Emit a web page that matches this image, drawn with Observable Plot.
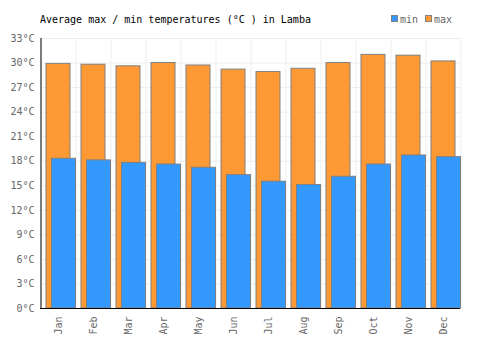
<!DOCTYPE html>
<html>
<head>
<meta charset="utf-8">
<script src="https://cdn.jsdelivr.net/npm/d3@7"></script>
<script src="https://cdn.jsdelivr.net/npm/@observablehq/plot@0.6"></script>
<style>
  body { margin: 0; background: #fff; font-family: "DejaVu Sans Mono", monospace; }
  #wrap { position: relative; width: 500px; height: 350px; }
  #head { position: relative; height: 30px; }
  #title { position: absolute; left: 40px; top: 14px; font-size: 10px; line-height: 12px; color: #000; white-space: pre; }
  .leg { position: absolute; top: 14px; font-size: 10px; line-height: 12px; color: #666; }
  .sw { display: inline-block; width: 5px; height: 5px; border: 1px solid #808080; margin-right: 2px; vertical-align: 1px; }
  svg { display: block; }
</style>
</head>
<body>
<div id="wrap">
  <div id="head">
    <div id="title">Average max / min temperatures (°C ) in Lamba</div>
    <div class="leg" style="left:391px"><span class="sw" style="background:#3399ff"></span>min</div>
    <div class="leg" style="left:425px"><span class="sw" style="background:#ff9933"></span>max</div>
  </div>
  <div id="chart"></div>
</div>
<script>
const months = ["Jan","Feb","Mar","Apr","May","Jun","Jul","Aug","Sep","Oct","Nov","Dec"];
const maxTemps = [29.9, 29.8, 29.6, 30.0, 29.7, 29.2, 28.9, 29.3, 30.0, 31.0, 30.9, 30.2];
const minTemps = [18.3, 18.1, 17.8, 17.6, 17.2, 16.3, 15.5, 15.1, 16.1, 17.6, 18.7, 18.5];
const yTicks = d3.range(0, 34, 3);

const maxData = months.map((m, i) => ({month: m, value: maxTemps[i]}));
const minData = months.map((m, i) => ({month: m, value: minTemps[i]}));

const chart = Plot.plot({
  width: 500,
  height: 320,
  marginTop: 8,
  marginBottom: 42,
  marginLeft: 40,
  marginRight: 40,
  style: { fontFamily: "DejaVu Sans Mono, monospace", fontSize: "10px", color: "#666", background: "#fff" },
  x: { domain: months, paddingInner: 11/35, paddingOuter: 5.5/35, label: null, tickRotate: -90, tickSize: 0, tickPadding: 8 },
  y: { domain: [0, 33], ticks: yTicks, tickFormat: d => d + "°C", label: null, tickSize: 0, tickPadding: 6 },
  marks: [
    Plot.ruleY(yTicks, { stroke: "#eeeeee", strokeWidth: 1 }),
    Plot.ruleX(months, { dx: -17.5, stroke: "#eeeeee", strokeWidth: 1 }),
    Plot.ruleX([months[months.length - 1]], { dx: 17.5, stroke: "#eeeeee", strokeWidth: 1 }),
    Plot.barY(maxData, { x: "month", y: "value", fill: "#ff9933", stroke: "#808080", strokeWidth: 1 }),
    Plot.barY(minData, { x: "month", y: "value", fill: "#3399ff", stroke: "#808080", strokeWidth: 1, dx: 5.5 }),
    Plot.ruleY([0], { stroke: "#000", strokeWidth: 1 }),
    Plot.ruleX([months[0]], { dx: -17.5, stroke: "#000", strokeWidth: 1 })
  ]
});
document.getElementById("chart").appendChild(chart);
</script>
</body>
</html>
